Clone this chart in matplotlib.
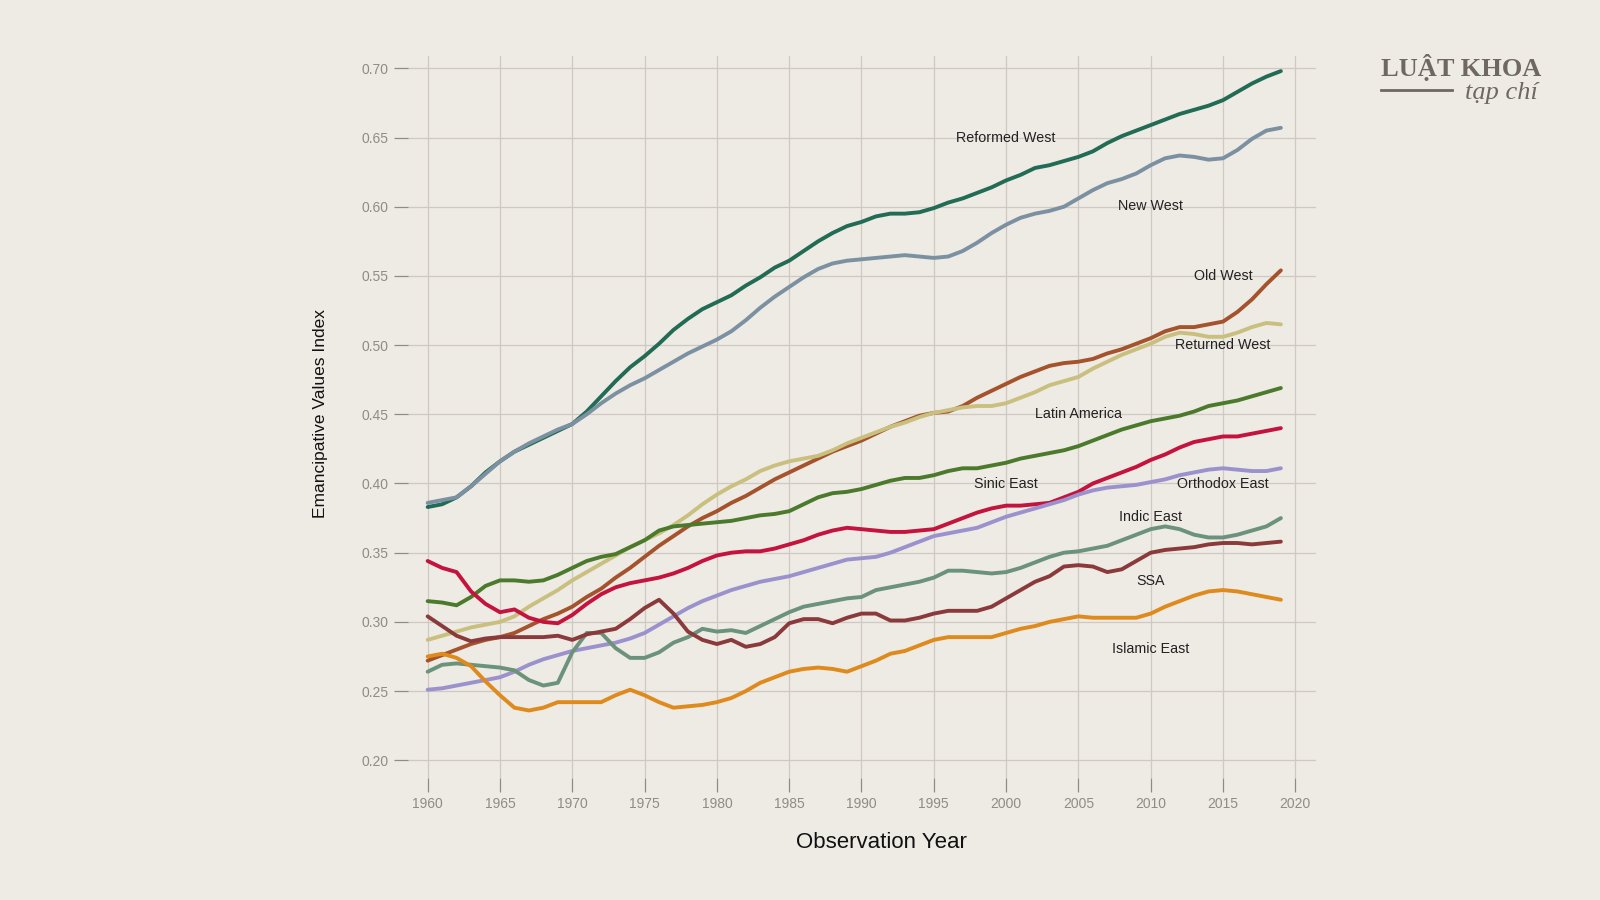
import matplotlib
matplotlib.use("Agg")
import matplotlib.pyplot as plt
import numpy as np

years = list(range(1960, 2020))

reformed_west = [0.383, 0.385, 0.390, 0.398, 0.408, 0.416, 0.423, 0.428, 0.433, 0.438,
                 0.443, 0.452, 0.463, 0.474, 0.484, 0.492, 0.501, 0.511, 0.519, 0.526,
                 0.531, 0.536, 0.543, 0.549, 0.556, 0.561, 0.568, 0.575, 0.581, 0.586,
                 0.589, 0.593, 0.595, 0.595, 0.596, 0.599, 0.603, 0.606, 0.610, 0.614,
                 0.619, 0.623, 0.628, 0.630, 0.633, 0.636, 0.640, 0.646, 0.651, 0.655,
                 0.659, 0.663, 0.667, 0.670, 0.673, 0.677, 0.683, 0.689, 0.694, 0.698]
new_west = [0.386, 0.388, 0.390, 0.398, 0.407, 0.416, 0.423, 0.429, 0.434, 0.439,
            0.443, 0.450, 0.458, 0.465, 0.471, 0.476, 0.482, 0.488, 0.494, 0.499,
            0.504, 0.510, 0.518, 0.527, 0.535, 0.542, 0.549, 0.555, 0.559, 0.561,
            0.562, 0.563, 0.564, 0.565, 0.564, 0.563, 0.564, 0.568, 0.574, 0.581,
            0.587, 0.592, 0.595, 0.597, 0.600, 0.606, 0.612, 0.617, 0.620, 0.624,
            0.630, 0.635, 0.637, 0.636, 0.634, 0.635, 0.641, 0.649, 0.655, 0.657]
old_west = [0.272, 0.276, 0.280, 0.284, 0.287, 0.289, 0.292, 0.297, 0.302, 0.306,
            0.311, 0.318, 0.324, 0.332, 0.339, 0.347, 0.355, 0.362, 0.369, 0.375,
            0.380, 0.386, 0.391, 0.397, 0.403, 0.408, 0.413, 0.418, 0.423, 0.427,
            0.431, 0.436, 0.441, 0.445, 0.449, 0.451, 0.452, 0.456, 0.462, 0.467,
            0.472, 0.477, 0.481, 0.485, 0.487, 0.488, 0.490, 0.494, 0.497, 0.501,
            0.505, 0.510, 0.513, 0.513, 0.515, 0.517, 0.524, 0.533, 0.544, 0.554]
returned_west = [0.287, 0.290, 0.293, 0.296, 0.298, 0.300, 0.304, 0.311, 0.317, 0.323,
                 0.330, 0.336, 0.342, 0.348, 0.354, 0.359, 0.364, 0.370, 0.377, 0.385,
                 0.392, 0.398, 0.403, 0.409, 0.413, 0.416, 0.418, 0.420, 0.424, 0.429,
                 0.433, 0.437, 0.441, 0.444, 0.448, 0.451, 0.453, 0.455, 0.456, 0.456,
                 0.458, 0.462, 0.466, 0.471, 0.474, 0.477, 0.483, 0.488, 0.493, 0.497,
                 0.501, 0.506, 0.509, 0.508, 0.506, 0.506, 0.509, 0.513, 0.516, 0.515]
latin_america = [0.315, 0.314, 0.312, 0.318, 0.326, 0.330, 0.330, 0.329, 0.330, 0.334,
                 0.339, 0.344, 0.347, 0.349, 0.354, 0.359, 0.366, 0.369, 0.370, 0.371,
                 0.372, 0.373, 0.375, 0.377, 0.378, 0.380, 0.385, 0.390, 0.393, 0.394,
                 0.396, 0.399, 0.402, 0.404, 0.404, 0.406, 0.409, 0.411, 0.411, 0.413,
                 0.415, 0.418, 0.420, 0.422, 0.424, 0.427, 0.431, 0.435, 0.439, 0.442,
                 0.445, 0.447, 0.449, 0.452, 0.456, 0.458, 0.460, 0.463, 0.466, 0.469]
sinic_east = [0.344, 0.339, 0.336, 0.322, 0.313, 0.307, 0.309, 0.303, 0.300, 0.299,
              0.305, 0.313, 0.320, 0.325, 0.328, 0.330, 0.332, 0.335, 0.339, 0.344,
              0.348, 0.350, 0.351, 0.351, 0.353, 0.356, 0.359, 0.363, 0.366, 0.368,
              0.367, 0.366, 0.365, 0.365, 0.366, 0.367, 0.371, 0.375, 0.379, 0.382,
              0.384, 0.384, 0.385, 0.386, 0.390, 0.394, 0.400, 0.404, 0.408, 0.412,
              0.417, 0.421, 0.426, 0.430, 0.432, 0.434, 0.434, 0.436, 0.438, 0.440]
orthodox_east = [0.251, 0.252, 0.254, 0.256, 0.258, 0.260, 0.264, 0.269, 0.273, 0.276,
                 0.279, 0.281, 0.283, 0.285, 0.288, 0.292, 0.298, 0.304, 0.310, 0.315,
                 0.319, 0.323, 0.326, 0.329, 0.331, 0.333, 0.336, 0.339, 0.342, 0.345,
                 0.346, 0.347, 0.350, 0.354, 0.358, 0.362, 0.364, 0.366, 0.368, 0.372,
                 0.376, 0.379, 0.382, 0.385, 0.388, 0.392, 0.395, 0.397, 0.398, 0.399,
                 0.401, 0.403, 0.406, 0.408, 0.410, 0.411, 0.410, 0.409, 0.409, 0.411]
indic_east = [0.264, 0.269, 0.270, 0.269, 0.268, 0.267, 0.265, 0.258, 0.254, 0.256,
              0.278, 0.292, 0.292, 0.281, 0.274, 0.274, 0.278, 0.285, 0.289, 0.295,
              0.293, 0.294, 0.292, 0.297, 0.302, 0.307, 0.311, 0.313, 0.315, 0.317,
              0.318, 0.323, 0.325, 0.327, 0.329, 0.332, 0.337, 0.337, 0.336, 0.335,
              0.336, 0.339, 0.343, 0.347, 0.350, 0.351, 0.353, 0.355, 0.359, 0.363,
              0.367, 0.369, 0.367, 0.363, 0.361, 0.361, 0.363, 0.366, 0.369, 0.375]
ssa = [0.304, 0.297, 0.290, 0.286, 0.288, 0.289, 0.289, 0.289, 0.289, 0.290,
       0.287, 0.291, 0.293, 0.295, 0.302, 0.310, 0.316, 0.306, 0.293, 0.287,
       0.284, 0.287, 0.282, 0.284, 0.289, 0.299, 0.302, 0.302, 0.299, 0.303,
       0.306, 0.306, 0.301, 0.301, 0.303, 0.306, 0.308, 0.308, 0.308, 0.311,
       0.317, 0.323, 0.329, 0.333, 0.340, 0.341, 0.340, 0.336, 0.338, 0.344,
       0.350, 0.352, 0.353, 0.354, 0.356, 0.357, 0.357, 0.356, 0.357, 0.358]
islamic_east = [0.275, 0.277, 0.274, 0.268, 0.257, 0.247, 0.238, 0.236, 0.238, 0.242,
                0.242, 0.242, 0.242, 0.247, 0.251, 0.247, 0.242, 0.238, 0.239, 0.240,
                0.242, 0.245, 0.250, 0.256, 0.260, 0.264, 0.266, 0.267, 0.266, 0.264,
                0.268, 0.272, 0.277, 0.279, 0.283, 0.287, 0.289, 0.289, 0.289, 0.289,
                0.292, 0.295, 0.297, 0.300, 0.302, 0.304, 0.303, 0.303, 0.303, 0.303,
                0.306, 0.311, 0.315, 0.319, 0.322, 0.323, 0.322, 0.320, 0.318, 0.316]

series_names = ["Reformed West", "New West", "Old West", "Returned West", "Latin America",
                "Sinic East", "Orthodox East", "Indic East", "SSA", "Islamic East"]
series_values = [reformed_west, new_west, old_west, returned_west, latin_america,
                 sinic_east, orthodox_east, indic_east, ssa, islamic_east]
series_colors = ["#226b55", "#7b91a2", "#a4532c", "#c9c07f", "#4c7a2c",
                 "#c3133e", "#9b92cd", "#6b927b", "#8b3a3c", "#df8a1d"]
# label anchor positions (year, value)
label_pos = [(2000, 0.650), (2010, 0.6005), (2015, 0.550), (2015, 0.500), (2005, 0.450),
             (2000, 0.3996), (2015, 0.3996), (2010, 0.3757), (2010, 0.3295), (2010, 0.2804)]

y_ticks = [0.20, 0.25, 0.30, 0.35, 0.40, 0.45, 0.50, 0.55, 0.60, 0.65, 0.70]
x_ticks = [1960, 1965, 1970, 1975, 1980, 1985, 1990, 1995, 2000, 2005, 2010, 2015, 2020]

bg = "#eeeae4"
grid_c = "#cfc9c3"
tick_c = "#8f8b87"

plt.rcParams['font.family'] = ['Liberation Sans', 'DejaVu Sans']

fig = plt.figure(figsize=(16, 9), dpi=100, facecolor=bg)
ax = fig.add_axes([408/1600, 1-778/900, (1316-408)/1600, (778-56)/900])
ax.set_facecolor(bg)

ax.set_xlim(1958.64, 2021.43)
ax.set_ylim(0.1872, 0.7089)
ax.set_xticks(x_ticks)
ax.set_yticks(y_ticks)
ax.set_yticklabels([f"{v:.2f}" for v in y_ticks])
ax.grid(True, color=grid_c, linewidth=0.9)
ax.set_axisbelow(True)
for s in ax.spines.values():
    s.set_visible(False)
ax.tick_params(axis='both', colors=tick_c, labelcolor=tick_c, labelsize=10,
               length=10, width=0.9, pad=4)

for name, vals, col in zip(series_names, series_values, series_colors):
    ax.plot(years, vals, color=col, linewidth=2.8, solid_capstyle='round',
            solid_joinstyle='round')

for name, (lx, ly) in zip(series_names, label_pos):
    ax.text(lx, ly, name, ha='center', va='center', fontsize=10.3, color='#222222')

ax.set_xlabel("Observation Year", fontsize=16, color='#111111')
ax.xaxis.set_label_coords((881-408)/908, (778-843)/722)
ax.xaxis.label.set_va('center')
ax.set_ylabel("Emancipative Values Index", fontsize=12.5, color='#111111')
ax.yaxis.set_label_coords((320-408)/908, (778-413)/722)
ax.yaxis.label.set_va('center')

# logo
logo_c = "#6f6763"
fig.text(1381/1600, 1-67.5/900, "LUẬT KHOA", fontsize=19, fontweight='bold',
         family=['Liberation Serif', 'DejaVu Serif'], color=logo_c, ha='left', va='center')
fig.add_artist(plt.Line2D([1381/1600, 1452/1600], [1-90/900, 1-90/900],
                          color=logo_c, linewidth=2))
fig.text(1538/1600, 1-93/900, "tạp chí", fontsize=19, style='italic',
         family=['Liberation Serif', 'DejaVu Serif'], color=logo_c, ha='right', va='center')

fig.savefig("out.png", dpi=100, facecolor=bg)
